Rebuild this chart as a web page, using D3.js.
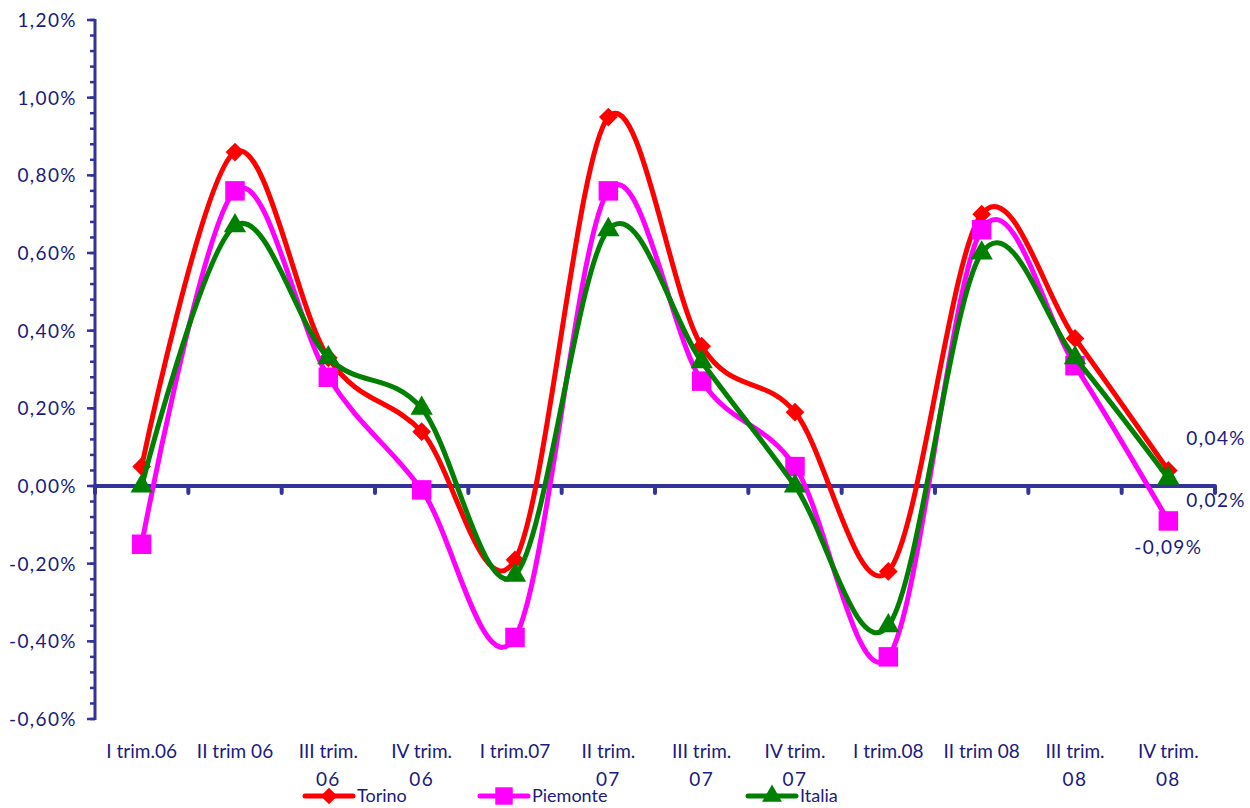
<!DOCTYPE html>
<html>
<head>
<meta charset="utf-8">
<script src="https://cdn.jsdelivr.net/npm/d3@7"></script>
<style>
  html, body { margin: 0; padding: 0; background: #fff; }
  svg { display: block; }
  text { font-family: Lato, "Noto Sans", sans-serif; fill: #1a1a80; }
</style>
</head>
<body>
<svg id="chart" width="1250" height="808"></svg>
<script>
const categories = [
  ["I trim.06"], ["II trim 06"], ["III trim.", "06"], ["IV trim.", "06"],
  ["I trim.07"], ["II trim.", "07"], ["III trim.", "07"], ["IV trim.", "07"],
  ["I trim.08"], ["II trim 08"], ["III trim.", "08"], ["IV trim.", "08"]
];
const torino   = [0.05, 0.86, 0.33, 0.14, -0.19, 0.95, 0.36, 0.19, -0.22, 0.70, 0.38, 0.04];
const piemonte = [-0.15, 0.76, 0.28, -0.01, -0.39, 0.76, 0.27, 0.05, -0.44, 0.66, 0.31, -0.09];
const italia   = [0.00, 0.67, 0.33, 0.20, -0.23, 0.66, 0.32, 0.00, -0.36, 0.60, 0.33, 0.02];
const yTicks = [-0.6, -0.4, -0.2, 0, 0.2, 0.4, 0.6, 0.8, 1.0, 1.2];
const seriesNames = ["Torino", "Piemonte", "Italia"];

(function () {
const series = [
  { name: seriesNames[0], values: torino, color: "#ff0000", symbol: d3.symbolSquare, size: 175, rot: 45 },
  { name: seriesNames[1], values: piemonte, color: "#ff00ff", symbol: d3.symbolSquare, size: 380, rot: 0 },
  { name: seriesNames[2], values: italia, color: "#008000", symbol: d3.symbolTriangle, size: 215, rot: 0 }
];

const svg = d3.select("#chart");
const axisColor = "#333399";
const mLeft = 95, mRight = 1215, mTop = 20, mBottom = 719;

const x = d3.scaleBand().domain(d3.range(categories.length)).range([mLeft, mRight]);
const y = d3.scaleLinear().domain([-0.6, 1.2]).range([mBottom, mTop]);
const locale = d3.formatLocale({ decimal: ",", thousands: ".", grouping: [3], currency: ["", "€"], minus: "-" });
const fmt2 = locale.format(".2f");
const fmt = v => fmt2(v) + "%";

// Y axis minor ticks
const minor = d3.range(-0.6, 1.2001, 0.04);
svg.append("g").selectAll("line").data(minor).join("line")
  .attr("x1", mLeft - 5).attr("x2", mLeft)
  .attr("y1", d => y(d)).attr("y2", d => y(d))
  .attr("stroke", axisColor).attr("stroke-width", 2.5);
svg.append("g").selectAll("line").data(yTicks).join("line")
  .attr("x1", mLeft - 8).attr("x2", mLeft)
  .attr("y1", d => y(d)).attr("y2", d => y(d))
  .attr("stroke", axisColor).attr("stroke-width", 2.5);
svg.append("line").attr("x1", mLeft).attr("x2", mLeft)
  .attr("y1", y(1.2) - 1).attr("y2", y(-0.6) + 1)
  .attr("stroke", axisColor).attr("stroke-width", 3);
svg.append("g").selectAll("text").data(yTicks).join("text")
  .attr("x", mLeft - 18).attr("y", d => y(d)).attr("dy", "0.36em")
  .attr("text-anchor", "end").attr("font-size", 19).attr("letter-spacing", 1.4)
  .text(fmt);

// X axis
const bounds = d3.range(categories.length + 1).map(i => mLeft + i * x.bandwidth());
svg.append("g").selectAll("line").data(bounds).join("line")
  .attr("x1", d => d).attr("x2", d => d)
  .attr("y1", y(0)).attr("y2", y(0) + 7)
  .attr("stroke", axisColor).attr("stroke-width", 4).attr("stroke-linecap", "round");
svg.append("line").attr("x1", mLeft).attr("x2", mRight)
  .attr("y1", y(0)).attr("y2", y(0))
  .attr("stroke", axisColor).attr("stroke-width", 4);

const xl = svg.append("g").selectAll("text").data(categories).join("text")
  .attr("text-anchor", "middle").attr("font-size", 19)
  .attr("x", (d, i) => x(i) + x.bandwidth() / 2).attr("y", 758);
xl.selectAll("tspan").data(d => d).join("tspan")
  .attr("x", function() { return d3.select(this.parentNode).attr("x"); })
  .attr("dy", (d, i) => i === 0 ? 0 : 28)
  .attr("letter-spacing", (d, i) => i === 0 ? 0 : 1.4)
  .text(d => d);

// Series
const line = d3.line()
  .x((d, i) => x(i) + x.bandwidth() / 2)
  .y(d => y(d))
  .curve(d3.curveCatmullRom.alpha(0));

series.forEach(s => {
  svg.append("path").datum(s.values)
    .attr("d", line).attr("fill", "none")
    .attr("stroke", s.color).attr("stroke-width", 5)
    .attr("stroke-linejoin", "round");
  svg.append("g").selectAll("path").data(s.values).join("path")
    .attr("transform", (d, i) => `translate(${x(i) + x.bandwidth() / 2},${y(d)}) rotate(${s.rot})`)
    .attr("d", d3.symbol().type(s.symbol).size(s.size))
    .attr("fill", s.color);
});

// End labels
const last = categories.length - 1;
const cx = x(last) + x.bandwidth() / 2;
const lblAttrs = sel => sel.attr("dy", "0.36em").attr("font-size", 19).attr("letter-spacing", 1.4);
svg.append("text").attr("x", cx + 18).attr("y", y(torino[last]) - 32).call(lblAttrs)
  .text(fmt(torino[last]));
svg.append("text").attr("x", cx + 18).attr("y", y(italia[last]) + 22).call(lblAttrs)
  .text(fmt(italia[last]));
svg.append("text").attr("x", cx).attr("y", y(piemonte[last]) + 26).call(lblAttrs)
  .attr("text-anchor", "middle").text(fmt(piemonte[last]));

// Legend
const legendX = [305, 480, 748];
const lg = svg.append("g").selectAll("g").data(series).join("g")
  .attr("transform", (d, i) => `translate(${legendX[i]},796)`);
lg.append("line").attr("x1", 0).attr("x2", 48).attr("y1", 0).attr("y2", 0)
  .attr("stroke", d => d.color).attr("stroke-width", 5).attr("stroke-linecap", "round");
lg.append("path").attr("transform", d => `translate(24,0) rotate(${d.rot})`)
  .attr("d", d => d3.symbol().type(d.symbol).size(d.size * 0.8)())
  .attr("fill", d => d.color);
lg.append("text").attr("x", 52).attr("y", 0).attr("dy", "0.33em")
  .attr("font-size", 18).text(d => d.name);
})();
</script>
</body>
</html>
